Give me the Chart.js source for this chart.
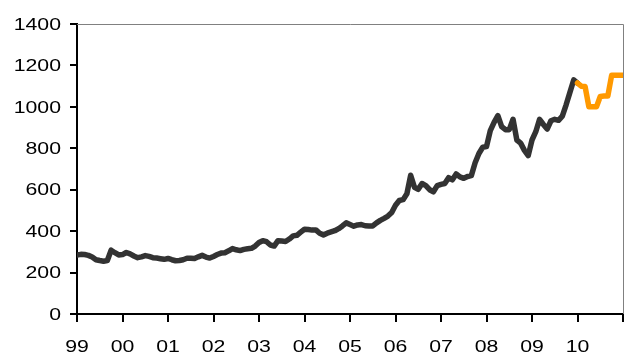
<!DOCTYPE html>
<html>
<head>
<meta charset="utf-8">
<style>
  html, body { margin: 0; padding: 0; background: #fff; overflow: hidden; }
  #wrap { position: relative; width: 626px; height: 352px; }
</style>
<script src="https://cdn.jsdelivr.net/npm/chart.js@4.4.1/dist/chart.umd.min.js"></script>
</head>
<body>
<div id="wrap"><canvas id="c"></canvas></div>
<script>
// Year labels, one per January tick (months counted from Jan 1999)
const yearLabels = ['99', '00', '01', '02', '03', '04', '05', '06', '07', '08', '09', '10'];
const yTicks = [0, 200, 400, 600, 800, 1000, 1200, 1400];

// Monthly history, Jan 1999 .. Jan 2010
const historyStart = 0;
const history = [
  285, 288, 287, 283, 275, 262, 258, 255, 258, 308, 296, 285, 287,
  297, 290, 280, 272, 276, 282, 278, 272, 270, 267, 264, 268,
  262, 257, 258, 262, 269, 269, 268, 276, 283, 275, 270, 278,
  287, 294, 296, 305, 316, 310, 306, 312, 315, 317, 328, 345,
  354, 349, 333, 328, 354, 352, 350, 362, 377, 380, 395, 409,
  408, 405, 406, 390, 382, 390, 396, 402, 412, 425, 440, 432,
  424, 430, 432, 426, 425, 425, 440, 452, 462, 473, 490, 525,
  548, 552, 580, 670, 612, 602, 630, 620, 600, 590, 620, 626,
  630, 658, 648, 676, 662, 655, 664, 668, 730, 775, 805, 808,
  885, 925, 958, 905, 890, 890, 940, 840, 825, 790, 765, 840,
  880, 940, 915, 893, 933, 940, 935, 955, 1010, 1070, 1130, 1115
];

// Forecast path, Jan 2010 .. Jan 2011
const forecastStart = 132;
const forecast = [1115, 1100, 1098, 1000, 1000, 1000, 1050, 1052, 1052, 1152, 1152, 1152, 1152];

const toPoints = (start, values) => values.map((v, i) => ({ x: start + i, y: v }));

const LABEL_FONT = '17px "Liberation Sans", Arial, sans-serif';
const LABEL_STRETCH = 1.25;

// Frame on the top and right sides of the plot area
const frame = {
  id: 'frame',
  beforeDatasetsDraw(chart) {
    const { ctx, chartArea: a } = chart;
    ctx.save();
    ctx.strokeStyle = '#808080';
    ctx.lineWidth = 1;
    ctx.beginPath();
    ctx.moveTo(a.left, a.top + 0.5);
    ctx.lineTo(a.right + 0.5, a.top + 0.5);
    ctx.lineTo(a.right + 0.5, a.bottom);
    ctx.stroke();
    ctx.restore();
  }
};

// Wide tick labels for both axes
const wideLabels = {
  id: 'wideLabels',
  afterDraw(chart) {
    const { ctx, scales: { x, y } } = chart;
    ctx.save();
    ctx.fillStyle = '#000';
    ctx.font = LABEL_FONT;
    ctx.textBaseline = 'middle';
    ctx.textAlign = 'right';
    yTicks.forEach(v => {
      ctx.save();
      ctx.translate(61, y.getPixelForValue(v) + 1);
      ctx.scale(LABEL_STRETCH, 1);
      ctx.fillText(String(v), 0, 0);
      ctx.restore();
    });
    ctx.textAlign = 'center';
    yearLabels.forEach((lab, i) => {
      ctx.save();
      ctx.translate(x.getPixelForValue(i * 12), y.bottom + 33);
      ctx.scale(LABEL_STRETCH, 1);
      ctx.fillText(lab, 0, 0);
      ctx.restore();
    });
    ctx.restore();
  }
};

new Chart(document.getElementById('c'), {
  type: 'line',
  data: {
    datasets: [
      {
        data: toPoints(forecastStart, forecast),
        borderColor: '#FF9900',
        borderWidth: 5.5,
        order: 0
      },
      {
        data: toPoints(historyStart, history),
        borderColor: '#333333',
        borderWidth: 5.5,
        order: 1
      }
    ]
  },
  options: {
    responsive: true,
    maintainAspectRatio: false,
    animation: false,
    devicePixelRatio: 1,
    layout: { padding: { left: 0, top: 24, right: 3, bottom: 0 } },
    elements: {
      point: { radius: 0, hoverRadius: 0 },
      line: { tension: 0, borderJoinStyle: 'round', borderCapStyle: 'round' }
    },
    plugins: { legend: { display: false }, tooltip: { enabled: false } },
    scales: {
      x: {
        type: 'linear',
        min: 0,
        max: 144,
        ticks: { display: false, stepSize: 12 },
        grid: { drawOnChartArea: false, drawTicks: true, tickLength: 8, color: '#000', lineWidth: 2 },
        border: { display: true, color: '#000', width: 2 },
        afterFit: s => { s.height = 38; }
      },
      y: {
        min: 0,
        max: 1400,
        ticks: { display: false, stepSize: 200 },
        grid: { drawOnChartArea: false, drawTicks: true, tickLength: 7, color: '#000', lineWidth: 2 },
        border: { display: true, color: '#000', width: 2 },
        afterFit: s => { s.width = 77; }
      }
    }
  },
  plugins: [frame, wideLabels]
});
</script>
</body>
</html>
